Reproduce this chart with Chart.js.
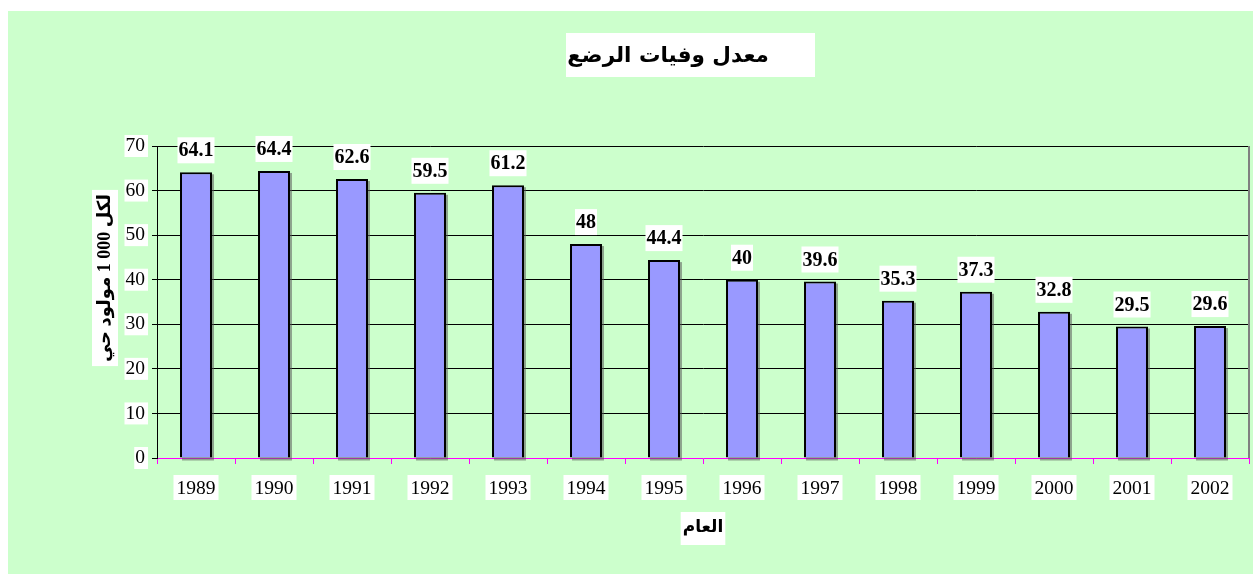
<!DOCTYPE html>
<html>
<head>
<meta charset="utf-8">
<script src="https://cdn.jsdelivr.net/npm/chart.js@4/dist/chart.umd.min.js"></script>
<style>
  body { margin: 0; background: #fff; }
  #wrap { position: absolute; left: 8px; top: 11px; width: 1245px; height: 563px; background: #CCFFCC; }
</style>
</head>
<body>
<div id="wrap"><canvas id="infantChart" width="1245" height="563"></canvas></div>
<script>
// data
const years = ['1989', '1990', '1991', '1992', '1993', '1994', '1995', '1996', '1997', '1998', '1999', '2000', '2001', '2002'];
const rates = [64.1, 64.4, 62.6, 59.5, 61.2, 48, 44.4, 40, 39.6, 35.3, 37.3, 32.8, 29.5, 29.6];

const chartTitle = 'معدل وفيات الرضع';
const yTitle = 'لكل 1\u00A0000 مولود حي';
const xTitle = 'العام';

const serif = '"Liberation Serif", "Times New Roman", serif';
const arabic = '"DejaVu Sans", sans-serif';
const tickSize = 19.5;

// white boxes behind tick labels, titles, value labels (like the Excel original)
const excelDecor = {
  id: 'excelDecor',
  beforeDraw(chart) {
    const ctx = chart.ctx;
    const xs = chart.scales.x, ys = chart.scales.y;
    ctx.save();
    ctx.fillStyle = '#fff';
    ctx.font = tickSize + 'px ' + serif;
    ys.ticks.forEach(t => {
      const py = ys.getPixelForValue(t.value);
      const w = ctx.measureText(String(t.value)).width;
      const right = ys.right - 5 - 7 + 2;
      ctx.fillRect(right - w - 3, py - 11, w + 4, 22);
    });
    xs.ticks.forEach((t, i) => {
      const px = xs.getPixelForTick(i);
      const w = ctx.measureText(years[i]).width;
      ctx.fillRect(px - w / 2 - 3, xs.top + 6 + 13 - 2, w + 6, 25);
    });
    ctx.restore();
  },
  beforeDatasetsDraw(chart) {
    // soft grey shadow under each bar
    const ctx = chart.ctx;
    ctx.save();
    ctx.fillStyle = 'rgba(90,90,90,0.55)';
    chart.getDatasetMeta(0).data.forEach(bar => {
      const p = bar.getProps(['x', 'y', 'base', 'width']);
      ctx.fillRect(p.x - p.width / 2 + 2, p.y + 2, p.width, p.base - p.y + 1);
    });
    ctx.restore();
  },
  afterDatasetsDraw(chart) {
    const ctx = chart.ctx;
    const meta = chart.getDatasetMeta(0);
    ctx.save();
    ctx.font = 'bold 20px ' + serif;
    ctx.textAlign = 'center';
    ctx.textBaseline = 'middle';
    meta.data.forEach((bar, i) => {
      const txt = String(rates[i]);
      const w = ctx.measureText(txt).width;
      const cy = bar.y - 9 - 13;
      ctx.fillStyle = '#fff';
      ctx.fillRect(bar.x - w / 2 - 1, cy - 13, w + 2, 26);
      ctx.fillStyle = '#000';
      ctx.fillText(txt, bar.x, cy + 1);
    });
    ctx.restore();
  },
  afterDraw(chart) {
    const ctx = chart.ctx;
    const area = chart.chartArea;
    ctx.save();
    // right border of plot
    ctx.strokeStyle = '#808080';
    ctx.lineWidth = 2;
    ctx.beginPath();
    ctx.moveTo(area.right, area.top);
    ctx.lineTo(area.right, area.bottom);
    ctx.stroke();

    ctx.textAlign = 'center';
    ctx.textBaseline = 'middle';
    // chart title
    ctx.fillStyle = '#fff';
    ctx.fillRect(558, 22, 249, 44);
    ctx.fillStyle = '#000';
    ctx.font = 'bold 21.5px ' + arabic;
    ctx.fillText(chartTitle, 660, 45);

    // x axis title
    ctx.font = 'bold 17px ' + arabic;
    const xw = ctx.measureText(xTitle).width;
    ctx.fillStyle = '#fff';
    ctx.fillRect(695 - xw / 2 - 2, 501, xw + 4, 33);
    ctx.fillStyle = '#000';
    ctx.fillText(xTitle, 695, 517);

    // y axis title (rotated)
    ctx.font = 'bold 18px "Liberation Serif", "DejaVu Sans", serif';
    ctx.translate(97, 267);
    ctx.rotate(-Math.PI / 2);
    const yw = ctx.measureText(yTitle).width;
    ctx.fillStyle = '#fff';
    ctx.fillRect(-yw / 2 - 4, -13, yw + 8, 26);
    ctx.fillStyle = '#000';
    ctx.fillText(yTitle, 0, 0);
    ctx.restore();
  }
};

const ctx = document.getElementById('infantChart').getContext('2d');
new Chart(ctx, {
  type: 'bar',
  data: {
    labels: years,
    datasets: [{
      data: rates,
      backgroundColor: '#9999FF',
      borderColor: '#000',
      borderWidth: 2,
      barPercentage: 0.41,
      categoryPercentage: 1
    }]
  },
  options: {
    responsive: false,
    animation: false,
    layout: { padding: { top: 135, right: 4, left: 0, bottom: 0 } },
    plugins: {
      legend: { display: false },
      title: { display: false },
      tooltip: { enabled: false }
    },
    scales: {
      x: {
        afterFit: s => { s.height = 116; },
        grid: {
          display: true,
          drawOnChartArea: false,
          drawTicks: true,
          tickLength: 6,
          color: '#FF00FF',
          tickColor: '#FF00FF'
        },
        border: { color: '#FF00FF', width: 1 },
        ticks: {
          color: '#000',
          font: { family: serif, size: tickSize },
          padding: 13,
          maxRotation: 0,
          autoSkip: false
        }
      },
      y: {
        min: 0,
        max: 70,
        afterFit: s => { s.width = 149; },
        grid: {
          color: c => (c.tick && c.tick.value === 0) ? 'rgba(0,0,0,0)' : '#000',
          tickColor: '#000',
          tickLength: 5
        },
        border: { color: '#000', width: 1 },
        ticks: {
          stepSize: 10,
          color: '#000',
          font: { family: serif, size: tickSize },
          padding: 7
        }
      }
    }
  },
  plugins: [excelDecor]
});
</script>
</body>
</html>
